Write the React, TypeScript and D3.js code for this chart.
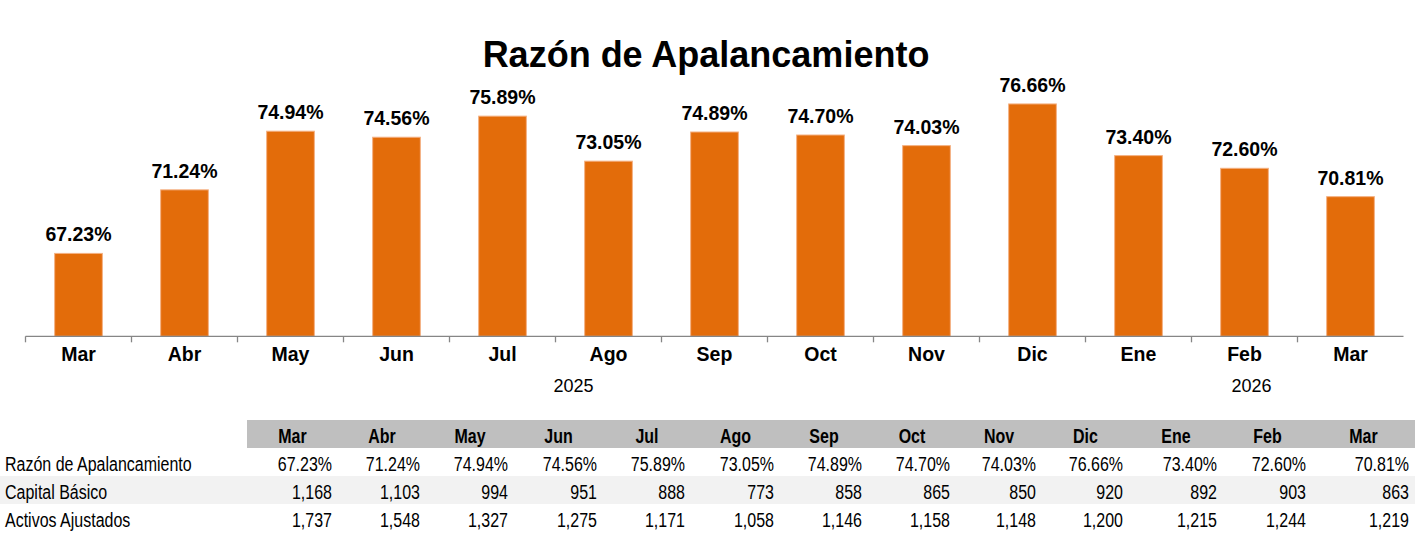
import React from "react";
import * as d3 from "d3";

const months = ["Mar", "Abr", "May", "Jun", "Jul", "Ago", "Sep", "Oct", "Nov", "Dic", "Ene", "Feb", "Mar"];
const years = ["2025", "2025", "2025", "2025", "2025", "2025", "2025", "2025", "2025", "2025", "2026", "2026", "2026"];
const razon = [67.23, 71.24, 74.94, 74.56, 75.89, 73.05, 74.89, 74.7, 74.03, 76.66, 73.4, 72.6, 70.81];
const capitalBasico = [1168, 1103, 994, 951, 888, 773, 858, 865, 850, 920, 892, 903, 863];
const activosAjustados = [1737, 1548, 1327, 1275, 1171, 1058, 1146, 1158, 1148, 1200, 1215, 1244, 1219];
const rowLabels = ["Razón de Apalancamiento", "Capital Básico", "Activos Ajustados"];

// table column widths (Excel columns are not all equal)
const colWidths = [91, 88, 88, 89, 88, 89, 88, 88, 86, 87, 94, 89, 103];
// small nudges Excel applies to the year group labels
const yearNudge: Record<string, number> = { "2025": 18, "2026": 7 };

const W = 1415;
const H = 534;
const FONT = "'Liberation Sans', Arial, sans-serif";
const ORANGE = "#E36C0A";

export default function App() {
  const idx = d3.range(months.length);
  const x = d3.scaleBand<number>().domain(idx).range([25.5, 1403.5]).padding(0);
  const y = d3.scaleLinear().domain([62, 78]).range([336.3, 82.7]);
  const bw = x.bandwidth();
  const barW = bw * 0.45;
  const axisY = y(62);

  const pct = (v: number) => v.toFixed(2) + "%";
  const num = d3.format(",");

  // year groups
  const groups = d3.groups(idx, (i) => years[i]).map(([yr, list]) => {
    const first = list[0];
    const last = list[list.length - 1];
    return { yr, cx: ((x(first) ?? 0) + (x(last) ?? 0) + bw) / 2 + (yearNudge[yr] ?? 0) };
  });

  // table column edges
  const tableLeft = 247;
  const edges = [tableLeft, ...d3.cumsum(colWidths).map((c) => tableLeft + c)];
  const rows = [razon.map(pct), capitalBasico.map(num), activosAjustados.map(num)];
  const headerTop = 420;
  const rowH = 28;
  const narrow = 0.82;

  return (
    <svg
      width={W}
      height={H}
      style={{ position: "absolute", left: 0, top: 0, background: "#fff" }}
      fontFamily={FONT}
    >
      <rect width={W} height={H} fill="#fff" />
      <text x={706} y={67} textAnchor="middle" fontSize={36} fontWeight="bold" fill="#000">
        Razón de Apalancamiento
      </text>

      {/* bars */}
      {idx.map((i) => (
        <rect
          key={"b" + i}
          x={(x(i) ?? 0) + (bw - barW) / 2}
          y={y(razon[i])}
          width={barW}
          height={axisY - y(razon[i])}
          fill={ORANGE}
          stroke="#F4B183"
          strokeWidth={1}
        />
      ))}
      {idx.map((i) => (
        <text
          key={"l" + i}
          x={(x(i) ?? 0) + bw / 2}
          y={y(razon[i]) - 12}
          textAnchor="middle"
          fontSize={19.5}
          fontWeight="bold"
          fill="#000"
        >
          {pct(razon[i])}
        </text>
      ))}

      {/* category axis */}
      <line x1={x(0)} x2={x.range()[1]} y1={axisY} y2={axisY} stroke="#868686" strokeWidth={1.3} />
      {idx.map((i) => (
        <line key={"t" + i} x1={x(i)} x2={x(i)} y1={axisY} y2={axisY + 6} stroke="#868686" strokeWidth={1.3} />
      ))}
      {idx.map((i) => (
        <text
          key={"m" + i}
          x={(x(i) ?? 0) + bw / 2}
          y={360.7}
          textAnchor="middle"
          fontSize={19.5}
          fontWeight="bold"
          fill="#000"
        >
          {months[i]}
        </text>
      ))}
      {groups.map((g) => (
        <text key={"y" + g.yr} x={g.cx} y={391.5} textAnchor="middle" fontSize={18} fill="#000">
          {g.yr}
        </text>
      ))}

      {/* data table */}
      <rect x={tableLeft} y={headerTop} width={W - tableLeft} height={rowH} fill="#BFBFBF" />
      <rect x={0} y={headerTop + rowH * 2} width={W} height={rowH} fill="#F2F2F2" />
      {idx.map((i) => (
        <text
          key={"h" + i}
          transform={`translate(${(edges[i] + edges[i + 1]) / 2},${headerTop + 23}) scale(${narrow},1)`}
          textAnchor="middle"
          fontSize={19.5}
          fontWeight="bold"
          fill="#000"
        >
          {months[i]}
        </text>
      ))}
      {rows.map((row, r) => (
        <g key={"r" + r}>
          <text
            transform={`translate(5,${headerTop + rowH * (r + 1) + 23}) scale(${narrow},1)`}
            fontSize={19.5}
            fill="#000"
          >
            {rowLabels[r]}
          </text>
          {row.map((v, i) => (
            <text
              key={i}
              transform={`translate(${edges[i + 1] - 6},${headerTop + rowH * (r + 1) + 23}) scale(${narrow},1)`}
              textAnchor="end"
              fontSize={19.5}
              fill="#000"
            >
              {v}
            </text>
          ))}
        </g>
      ))}
    </svg>
  );
}
